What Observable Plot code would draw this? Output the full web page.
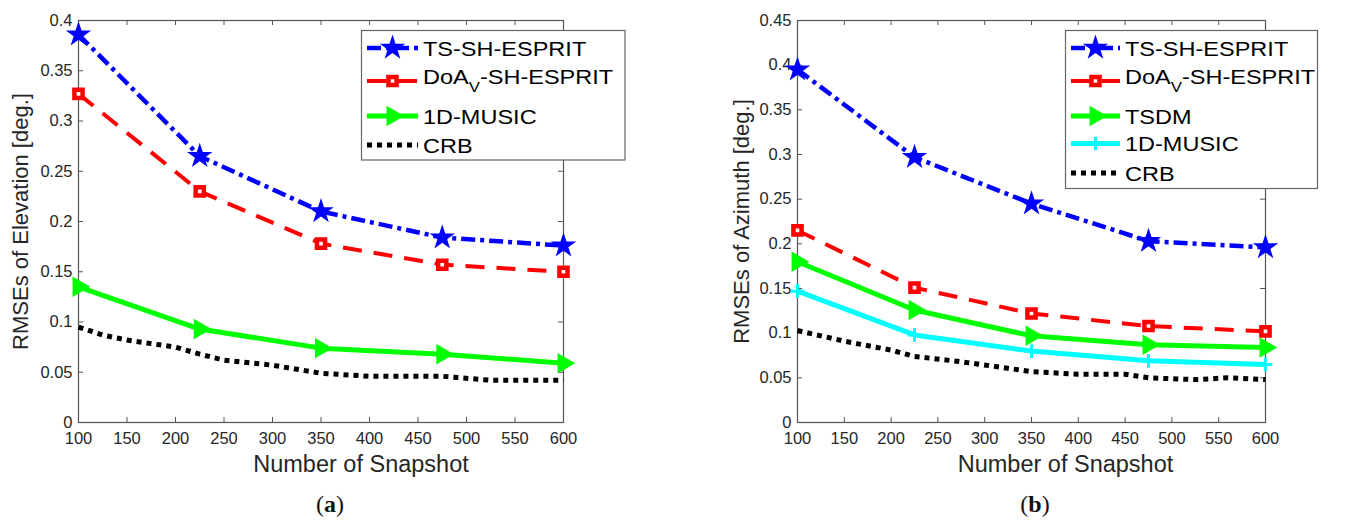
<!DOCTYPE html>
<html><head><meta charset="utf-8">
<script src="https://cdn.jsdelivr.net/npm/d3@7"></script>
<script src="https://cdn.jsdelivr.net/npm/@observablehq/plot@0.6"></script>
<style>
body{margin:0;background:#fff;}
#wrap{position:relative;width:1354px;height:521px;overflow:hidden;font-family:"Liberation Sans",Arial,sans-serif;}
.panel{position:absolute;top:0;}
.legend{position:absolute;top:0;left:0;}
.cap{position:absolute;top:491px;font-family:"Liberation Serif","DejaVu Serif",serif;font-size:24px;color:#111;transform:translateX(-50%);white-space:nowrap;}
</style></head><body><div id="wrap"></div>
<script>
// ---- data ----
const snapshots = [100, 225, 350, 475, 600];
const xTicks = [100, 150, 200, 250, 300, 350, 400, 450, 500, 550, 600];

// (a) elevation
const elevTS    = [0.386, 0.265, 0.210, 0.184, 0.176];
const elevDoA   = [0.327, 0.230, 0.178, 0.157, 0.150];
const elevMusic = [0.135, 0.093, 0.074, 0.068, 0.059];
const crbElevX  = [100, 125, 150, 200, 225, 250, 300, 350, 400, 475, 525, 600];
const crbElevY  = [0.095, 0.087, 0.082, 0.075, 0.068, 0.062, 0.057, 0.049, 0.046, 0.046, 0.042, 0.042];
const elevTicks = [0, 0.05, 0.1, 0.15, 0.2, 0.25, 0.3, 0.35, 0.4];

// (b) azimuth
const azTS    = [0.395, 0.297, 0.245, 0.203, 0.196];
const azDoA   = [0.215, 0.151, 0.122, 0.108, 0.102];
const azTSDM  = [0.180, 0.126, 0.097, 0.087, 0.084];
const azMusic = [0.147, 0.098, 0.080, 0.069, 0.065];
const crbAzX  = [100, 150, 200, 225, 275, 350, 400, 450, 475, 525, 560, 600];
const crbAzY  = [0.103, 0.091, 0.081, 0.074, 0.068, 0.057, 0.054, 0.054, 0.050, 0.048, 0.050, 0.048];
const azTicks = [0, 0.05, 0.1, 0.15, 0.2, 0.25, 0.3, 0.35, 0.4, 0.45];

// ---- styles ----
const STY = {
  ts:    {stroke: "#0000ff", strokeWidth: 4.5, dash: "14,5,4,5", symbol: "star", r: 8, fill: "#0000ff"},
  doa:   {stroke: "#ff0000", strokeWidth: 4, dash: "19,12", symbol: "square", r: 4.6, fill: "#ffffff", mstroke: "#ff0000", msw: 4.5},
  green: {stroke: "#00ff00", strokeWidth: 5, dash: null, symbol: "triangle", r: 7.6, fill: "#00ff00", rotate: 90},
  cyan:  {stroke: "#00ffff", strokeWidth: 5, dash: null, symbol: "plus", r: 4.5, fill: "none", mstroke: "#00ffff", msw: 3},
  crb:   {stroke: "#000000", strokeWidth: 5, dash: "5,5", symbol: null}
};

function rows(xs, ys) { return xs.map((x, i) => ({x, y: ys[i]})); }

function seriesMarks(data, s) {
  const m = [Plot.line(data, {x: "x", y: "y", stroke: s.stroke, strokeWidth: s.strokeWidth,
    strokeDasharray: s.dash || undefined, strokeLinecap: "butt", strokeLinejoin: "round"})];
  if (s.symbol) {
    m.push(Plot.dot(data, {x: "x", y: "y", symbol: s.symbol, r: s.r, fill: s.fill,
      stroke: s.mstroke || "none", strokeWidth: s.msw || 0, rotate: s.rotate || 0}));
  }
  return m;
}

const H = 490, MT = 20, MB = 68;
const FONT = '"Liberation Sans", Arial, sans-serif';
function panel({left, width, marginLeft, marginRight, yDomain, yTicks, yLabel, yLabelDx, xLabelDx, series}) {
  const plotW = width - marginLeft - marginRight;
  const plotH = H - MT - MB;
  const marks = [];
  series.forEach(([d, s]) => marks.push(...seriesMarks(d, s)));
  const hasAxisMarks = typeof Plot.axisX === "function";
  const axes = hasAxisMarks ? [
    Plot.axisX(xTicks, {tickSize: 0, tickPadding: 10, fontSize: 16.5, label: null, fill: "#262626"}),
    Plot.axisY(yTicks, {tickSize: 0, tickPadding: 6, fontSize: 16.5, label: null, fill: "#262626", tickFormat: d => String(d)})
  ] : [];
  const chart = Plot.plot({
    width, height: H, marginLeft, marginRight, marginTop: MT, marginBottom: MB,
    style: {fontFamily: FONT, fontSize: "16.5px", color: "#262626", background: "transparent"},
    x: {domain: [100, 600], ticks: xTicks, tickSize: 0, tickPadding: 10, label: null},
    y: {domain: yDomain, ticks: yTicks, tickSize: 0, tickPadding: 6, label: null, tickFormat: d => String(d)},
    marks: [
      ...axes,
      Plot.tickX(xTicks, {x: d => d, stroke: "#555", insetTop: plotH - 5}),
      Plot.tickX(xTicks, {x: d => d, stroke: "#555", insetBottom: plotH - 5}),
      Plot.tickY(yTicks, {y: d => d, stroke: "#555", insetRight: plotW - 5}),
      Plot.tickY(yTicks, {y: d => d, stroke: "#555", insetLeft: plotW - 5}),
      Plot.frame({stroke: "#555", strokeWidth: 1.2}),
      ...marks,
      Plot.text(["Number of Snapshot"], {text: d => d, frameAnchor: "bottom", lineAnchor: "middle", textAnchor: "middle",
        dy: 42, dx: xLabelDx, fontSize: 23.5, fill: "#262626"}),
      Plot.text([yLabel], {text: d => d, frameAnchor: "left", lineAnchor: "middle", textAnchor: "middle",
        rotate: -90, dx: yLabelDx, fontSize: 22, fill: "#262626"})
    ]
  });
  chart.classList.add("panel");
  chart.style.left = left + "px";
  return chart;
}

const wrap = document.getElementById("wrap");

wrap.appendChild(panel({
  left: 0, width: 580, marginLeft: 78, marginRight: 17,
  yDomain: [0, 0.4], yTicks: elevTicks, yLabel: "RMSEs of Elevation [deg.]", yLabelDx: -58, xLabelDx: 40,
  series: [
    [rows(crbElevX, crbElevY), STY.crb],
    [rows(snapshots, elevMusic), STY.green],
    [rows(snapshots, elevDoA), STY.doa],
    [rows(snapshots, elevTS), STY.ts]
  ]
}));

wrap.appendChild(panel({
  left: 700, width: 580, marginLeft: 97, marginRight: 15,
  yDomain: [0, 0.45], yTicks: azTicks, yLabel: "RMSEs of Azimuth [deg.]", yLabelDx: -56, xLabelDx: 34,
  series: [
    [rows(crbAzX, crbAzY), STY.crb],
    [rows(snapshots, azMusic), STY.cyan],
    [rows(snapshots, azTSDM), STY.green],
    [rows(snapshots, azDoA), STY.doa],
    [rows(snapshots, azTS), STY.ts]
  ]
}));

// ---- legends ----
const legendA = [
  {label: "TS-SH-ESPRIT", s: STY.ts, ly: 48},
  {label: "DoA", sub: "V", rest: "-SH-ESPRIT", s: STY.doa, ly: 81},
  {label: "1D-MUSIC", s: STY.green, ly: 116},
  {label: "CRB", s: STY.crb, ly: 145}
];
const legendB = [
  {label: "TS-SH-ESPRIT", s: STY.ts, ly: 48},
  {label: "DoA", sub: "V", rest: "-SH-ESPRIT", s: STY.doa, ly: 81},
  {label: "TSDM", s: STY.green, ly: 116},
  {label: "1D-MUSIC", s: STY.cyan, ly: 143.5},
  {label: "CRB", s: STY.crb, ly: 173}
];
const symMap = {star: d3.symbolStar, square: d3.symbolSquare, triangle: d3.symbolTriangle, plus: d3.symbolPlus};

function legend(box, entries) {
  const svg = d3.select(wrap).append("svg").attr("class", "legend").attr("width", 1354).attr("height", 521);
  svg.append("rect").attr("x", box.x).attr("y", box.y).attr("width", box.w).attr("height", box.h)
    .attr("fill", "#fff").attr("stroke", "#666").attr("stroke-width", 1.2);
  entries.forEach(e => {
    const s = e.s;
    svg.append("line").attr("x1", box.lx1).attr("x2", box.lx2).attr("y1", e.ly).attr("y2", e.ly)
      .attr("stroke", s.stroke).attr("stroke-width", s.strokeWidth)
      .attr("stroke-dasharray", s.dash || null);
    if (s.symbol) {
      const size = Math.PI * s.r * s.r;
      svg.append("path").attr("d", d3.symbol(symMap[s.symbol], size)())
        .attr("transform", `translate(${(box.lx1 + box.lx2) / 2},${e.ly}) rotate(${s.rotate || 0})`)
        .attr("fill", s.fill).attr("stroke", s.mstroke || "none").attr("stroke-width", s.msw || 0);
    }
    const ty = e.sub ? e.ly + 3 : e.ly + 7.5;
    const t = svg.append("text").attr("transform", `translate(${box.tx},${ty}) scale(1.12,1)`)
      .attr("font-family", FONT).attr("font-size", 21).attr("fill", "#000");
    t.append("tspan").text(e.label);
    if (e.sub) {
      t.append("tspan").attr("dy", 8).attr("font-size", 15).text(e.sub);
      t.append("tspan").attr("dy", -8).text(e.rest);
    }
  });
}
legend({x: 361.5, y: 30.5, w: 263.5, h: 129.5, lx1: 367, lx2: 418, tx: 423}, legendA);
legend({x: 1065.5, y: 30.5, w: 252, h: 158, lx1: 1071, lx2: 1120, tx: 1125}, legendB);

// ---- captions ----
function caption(x, letter) {
  const d = document.createElement("div");
  d.className = "cap";
  d.style.left = x + "px";
  d.innerHTML = "(<b>" + letter + "</b>)";
  wrap.appendChild(d);
}
caption(330, "a");
caption(1035, "b");
</script>
</body></html>
